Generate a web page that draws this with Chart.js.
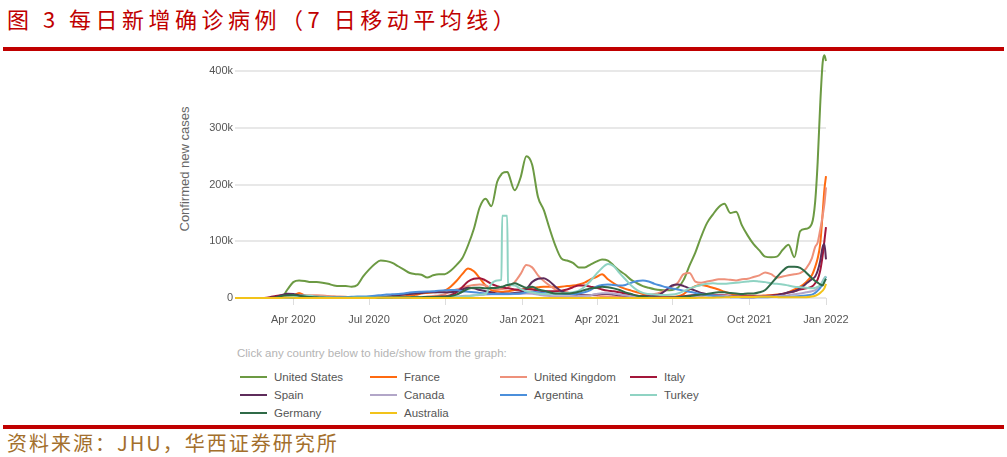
<!DOCTYPE html>
<html>
<head>
<meta charset="utf-8">
<script src="https://cdn.jsdelivr.net/npm/chart.js@4.4.1/dist/chart.umd.min.js"></script>
<style>
  body { margin: 0; width: 1007px; height: 457px; overflow: hidden; position: relative; background: #fff; font-family: "Liberation Sans", Arial, sans-serif; }
  #title { position: absolute; left: 7px; top: 3px; font-family: "Noto Sans CJK SC"; font-size: 22px; line-height: 30px; color: #c00000; letter-spacing: 4.5px; white-space: pre; }
  .rule { position: absolute; left: 3px; width: 1001px; height: 4px; background: #c00000; }
  #source { position: absolute; left: 7px; top: 430px; font-family: "Noto Sans CJK SC"; font-size: 20px; line-height: 26px; color: #a36f2c; letter-spacing: 2px; white-space: pre; }
  #ytitle { position: absolute; left: 184px; top: 169px; transform: translate(-50%, -50%) rotate(-90deg); font-size: 13px; color: #666; white-space: nowrap; }
  #hint { position: absolute; left: 237px; top: 347px; font-size: 11.5px; color: #b4b4b4; }
  .item { position: absolute; height: 18px; display: flex; align-items: center; font-size: 11.5px; color: #555; white-space: nowrap; }
  .item i { display: inline-block; width: 27px; height: 2px; margin-right: 7px; }
  canvas { position: absolute; left: 0; top: 0; }
</style>
</head>
<body>
<div id="title">图 3 每日新增确诊病例（7 日移动平均线）</div>
<div class="rule" style="top:47px"></div>
<div id="ytitle">Confirmed new cases</div>
<div id="hint">Click any country below to hide/show from the graph:</div>
<div id="legend"></div>
<div class="rule" style="top:425px"></div>
<div id="source">资料来源：JHU，华西证券研究所</div>
<canvas id="chart" width="1007" height="457"></canvas>
<script>
// 7-day average of daily new cases, in thousands
let dates = [
  "2020-01-22","2020-01-29","2020-02-05","2020-02-12","2020-02-19","2020-02-26","2020-03-04","2020-03-11","2020-03-18","2020-03-25",
  "2020-04-01","2020-04-08","2020-04-15","2020-04-22","2020-04-29","2020-05-06","2020-05-13","2020-05-20","2020-05-27","2020-06-03",
  "2020-06-10","2020-06-17","2020-06-24","2020-07-01","2020-07-08","2020-07-15","2020-07-22","2020-07-29","2020-08-05","2020-08-12",
  "2020-08-19","2020-08-26","2020-09-02","2020-09-09","2020-09-16","2020-09-23","2020-09-30","2020-10-07","2020-10-14","2020-10-21",
  "2020-10-28","2020-11-04","2020-11-11","2020-11-18","2020-11-25","2020-12-02",
  "2020-12-07","2020-12-08","2020-12-14","2020-12-15",
  "2020-12-23","2020-12-30","2021-01-06","2021-01-13","2021-01-20","2021-01-27","2021-02-03","2021-02-10","2021-02-17","2021-02-24",
  "2021-03-03","2021-03-10","2021-03-17","2021-03-24","2021-03-31","2021-04-07","2021-04-14","2021-04-21","2021-04-28","2021-05-05",
  "2021-05-12","2021-05-19","2021-05-26","2021-06-02","2021-06-09","2021-06-16","2021-06-23","2021-06-30","2021-07-07","2021-07-14",
  "2021-07-21","2021-07-28","2021-08-04","2021-08-11","2021-08-18","2021-08-25","2021-09-01","2021-09-08","2021-09-15","2021-09-22",
  "2021-09-29","2021-10-06","2021-10-13","2021-10-20","2021-10-27","2021-11-03","2021-11-10","2021-11-17","2021-11-24","2021-12-01",
  "2021-12-08","2021-12-15",
  "2021-12-19","2021-12-22","2021-12-25","2021-12-28","2021-12-30","2022-01-01"
];

let unitedStates = [
  0,0,0,0,0,0,0,0.1,1,15,
  28,31,30,28,28,27,25,22,21,21,
  20,23,38,50,60,66,65,62,56,50,
  44,42,41,36,40,42,42,48,58,70,
  93,122,160,175,162,205,
  218,220,222,221,
  190,212,250,235,178,155,122,92,70,66,
  62,54,54,59,64,68,66,57,48,41,
  32,26,21,18,15.5,14,13.5,14,18,32,
  57,80,108,132,147,160,166,150,152,128,
  110,95,84,73,72,73,85,94,72,118,
  122,131,
  170,240,340,415,428,418
];
let france = [
  0,0,0,0,0,0.1,0.2,0.5,1.2,2.5,
  4,9,4,2,1,0.8,0.5,0.5,0.5,0.4,
  0.5,0.5,0.6,0.6,0.7,0.8,1,1.5,2,3,
  4.5,5.5,8,9,10,11,13,20,30,42,
  52,47,35,22,14,12,
  11,11,12,12,
  14,15,16,18,19,20,20,19,20,21,
  22,24,27,33,37,42,33,26,20,16,
  13,10,7,4.5,3.5,2.5,2,2,3,7,
  15,21,23,21,18,15,11,8,6,5,
  4.5,4,4,4.5,5,6,7,10,15,20,
  28,40,
  55,70,95,150,190,215
];
let unitedKingdom = [
  0,0,0,0,0,0,0,0.1,0.5,1.5,
  3.5,4.5,5,5,5,4.5,3.5,3,2.5,2,
  1.5,1.2,1,0.8,0.7,0.6,0.7,0.8,0.9,1,
  1,1.2,1.6,2.5,3.5,4.5,6.5,12,15,18,
  21,23,24,22,17,15,
  16,16,18,19,
  28,42,58,54,40,30,22,15,12,10,
  7,6,5.5,5,4.5,3,2.7,2.5,2.3,2.3,
  2.5,2.8,3.5,5,7,10,14,20,27,42,
  44,29,27,29,31,33,33,32,31,33,
  34,37,40,45,42,36,38,40,42,44,
  52,70,
  90,98,120,145,165,195
];
let italy = [
  0,0,0,0,0,0.2,1.5,3.5,5,5.5,
  4.5,4,3.5,2.8,2,1.5,1,0.7,0.5,0.3,
  0.3,0.2,0.2,0.2,0.2,0.2,0.3,0.4,0.7,1,
  1.3,1.5,1.5,1.6,1.7,2,3,5,10,19,
  29,34,35,31,25,21,
  19,19,17,17,
  15,14,16,15,13,12,12,12,13,15,
  19,22,22,20,18,15,13,12,10,8,
  6,4,3,2.2,1.5,1.2,0.9,0.9,1.5,3,
  4.5,5.5,6,6,5.5,5.5,5,4,3.5,3,
  3,3,3,3.5,4.5,5.5,7.5,9.5,12,15,
  17,20,
  26,33,48,75,100,125
];
let spain = [
  0,0,0,0,0,0,0.3,1.5,5,7.5,
  7,5,4,3,1.5,1,0.5,0.3,0.3,0.3,
  0.3,0.3,0.4,0.5,1,2,2.5,3.5,5,6,
  7,8,9,10,10,10,10,10,12,15,
  18,17,14,12,10,8,
  8,8,8,8,
  9,10,16,28,34,35,29,20,12,8,
  6,5,5,5,6,7,7,6,5,4,
  3.5,3,3,3,4,7,14,22,24,21,
  17,13,9,7,5,3.5,2.5,2,2,1.5,
  1.5,1.5,1.8,2,3,5,7,10,12,17,
  25,33,
  38,48,65,90,95,68
];
let canada = [
  0,0,0,0,0,0,0,0.1,0.5,1,
  1.3,1.5,1.5,1.5,1.4,1.2,1,0.8,0.6,0.4,
  0.3,0.3,0.3,0.3,0.4,0.4,0.4,0.4,0.4,0.4,
  0.5,0.7,0.8,1,1.3,1.8,2,2.3,2.6,3.5,
  4,4.8,5.5,6,6.5,6.8,
  6.8,6.8,6.7,6.7,
  7,7.5,8,7.5,6,4.5,3.5,3,3,3,
  3,3.5,4,5,7,8.5,8.5,7.5,6,4.5,
  3,2,1.2,0.8,0.5,0.4,0.4,0.5,0.6,0.9,
  1.5,2.5,3.5,4.2,4.3,4.2,3.8,3,2.5,2.3,
  2.3,2.4,2.5,2.6,2.8,3.2,3.8,5,6.5,8,
  10,12,
  14,18,22,30,35,38
];
let argentina = [
  0,0,0,0,0,0,0,0,0,0,
  0.05,0.1,0.1,0.1,0.2,0.3,0.5,0.8,1,1.5,
  2,2.5,2.8,3.3,4,5,6,6.5,7,8,
  9.5,10.5,11,11.5,12,13,13.5,14,14,12,
  11,10,9,8,7,7,
  7,7,7,7,
  7.5,8,10,11,10,9,8,7,7,7,
  7,8,10,14,20,23,24,23,22,23,
  27,30,31,29,25,22,19,17,15,13,
  11,9,7,5,4,3,2,1.5,1.2,1.2,
  1.2,1.2,1.4,1.5,1.6,1.8,2,2.3,2.8,3.5,
  4.5,6,
  9,13,18,25,32,38
];
let turkey = [
  0,0,0,0,0,0,0,0,0.3,1.5,
  2.5,4,4.3,3.8,2.8,2,1.5,1,1,1,
  1.1,1.3,1.3,1.2,1.1,1,1,1.1,1.3,1.4,
  1.5,1.6,1.7,1.7,1.5,1.5,1.6,1.7,1.9,2.2,
  3,4.5,6,7,25,31,
  32,145,145,26,
  22,16,12,10,8,7,7,7.5,8,9,
  10,13,20,30,42,53,60,56,44,33,
  22,14,9,7,6,5.5,5.5,6,8,12,
  17,20,23,25,26,25,25,26,27,28,
  29,30,29,28,26,25,24,22,20,19,
  18,17,
  18,20,22,28,34,38
];
let germany = [
  0,0,0,0,0,0,0.2,1,3.5,5,
  5.5,4,2.5,1.8,1.2,0.8,0.6,0.5,0.4,0.4,
  0.4,0.4,0.4,0.4,0.5,0.6,0.8,1.1,1.3,1.3,
  1.2,1.3,1.5,1.7,1.8,2,2.3,3.5,6,11,
  16,18,18,17,17.5,18,
  20,20,23,23,
  26,22,18,20,15,13,10,8,8,8,
  9,11,14,17,18,20,19,17,14,10,
  7,4,2.5,1.5,0.8,0.6,0.6,0.8,1.3,2,
  3.5,5,6,7,9,10,10,9,8,7,
  8,8,10,14,25,37,48,55,55,53,
  45,35,
  30,27,24,22,28,34
];
let australia = [
  0,0,0,0,0,0,0,0.05,0.2,0.4,
  0.3,0.1,0.05,0.02,0.02,0.02,0.02,0.01,0.01,0.01,
  0.02,0.03,0.1,0.15,0.2,0.3,0.4,0.4,0.45,0.35,
  0.25,0.15,0.1,0.05,0.03,0.02,0.02,0.02,0.02,0.02,
  0.02,0.01,0.01,0.01,0.01,0.01,
  0.01,0.01,0.01,0.01,
  0.02,0.02,0.03,0.01,0.01,0.01,0.01,0.01,0.01,0.01,
  0.01,0.01,0.01,0.01,0.01,0.01,0.01,0.01,0.01,0.01,
  0.01,0.01,0.01,0.01,0.01,0.02,0.02,0.03,0.04,0.1,
  0.15,0.2,0.3,0.4,0.6,0.9,1.2,1.5,1.7,1.7,
  1.7,1.9,2.1,2.2,2,1.6,1.3,1.3,1.3,1.4,
  1.5,2.5,
  4,6,9,13,17,25
];

let names = ["United States", "France", "United Kingdom", "Italy", "Spain", "Canada", "Argentina", "Turkey", "Germany", "Australia"];
let series = [unitedStates, france, unitedKingdom, italy, spain, canada, argentina, turkey, germany, australia];
let colors = ["#6c9a43", "#ff6a10", "#ee917b", "#a3163a", "#5e2c5b", "#b2a6c8", "#4b8fdb", "#8fd3c3", "#2f6a47", "#f2c31a"];

let tickDates = ["2020-04-01", "2020-07-01", "2020-10-01", "2021-01-01", "2021-04-01", "2021-07-01", "2021-10-01", "2022-01-01"];
let tickLabels = ["Apr 2020", "Jul 2020", "Oct 2020", "Jan 2021", "Apr 2021", "Jul 2021", "Oct 2021", "Jan 2022"];
let yTicks = [0, 100, 200, 300, 400];
let yTickLabels = ["0", "100k", "200k", "300k", "400k"];

let start = Date.parse(dates[0]);
function dayOf(d) {
  return (Date.parse(d) - start) / 86400000;
}

// html legend
let legend = document.querySelector("#legend");
names.forEach((name, i) => {
  let div = document.createElement("div");
  div.className = "item";
  div.style.left = (240 + (i % 4) * 130) + "px";
  div.style.top = (368 + Math.floor(i / 4) * 18) + "px";
  div.innerHTML = '<i style="background:' + colors[i] + '"></i>' + name;
  legend.appendChild(div);
});

let datasets = names.map((name, i) => {
  return {
    label: name,
    data: series[i].map((v, j) => ({ x: dayOf(dates[j]), y: v })),
    borderColor: colors[i],
    backgroundColor: colors[i],
    borderWidth: 2,
    pointRadius: 0,
    cubicInterpolationMode: "monotone",
    fill: false,
    clip: 6,
    order: names.length - i,
  };
});

let font = { family: "Liberation Sans", size: 11 };

new Chart(document.getElementById("chart"), {
  type: "line",
  data: { datasets: datasets },
  options: {
    responsive: false,
    animation: false,
    devicePixelRatio: 1,
    layout: { padding: { left: 170, top: 53, right: 181, bottom: 119 } },
    plugins: { legend: { display: false }, tooltip: { enabled: false } },
    scales: {
      x: {
        type: "linear",
        min: 0,
        max: dayOf(dates[dates.length - 1]),
        afterBuildTicks: (s) => { s.ticks = tickDates.map((d) => ({ value: dayOf(d) })); },
        afterFit: (s) => { s.height = 40; },
        grid: { drawOnChartArea: false, drawTicks: true, tickLength: 7, color: "#dddddd" },
        border: { display: false },
        ticks: { autoSkip: false, maxRotation: 0, padding: 8, color: "#555", font: font, callback: (v, i) => tickLabels[i] },
      },
      y: {
        min: 0,
        max: 432,
        afterBuildTicks: (s) => { s.ticks = yTicks.map((v) => ({ value: v })); },
        afterFit: (s) => { s.width = 65; },
        grid: { color: "#e8e8e8", lineWidth: 2, drawTicks: false },
        border: { display: false },
        ticks: { padding: 2, color: "#555", font: font, callback: (v, i) => yTickLabels[i] },
      },
    },
  },
});
</script>
</body>
</html>
